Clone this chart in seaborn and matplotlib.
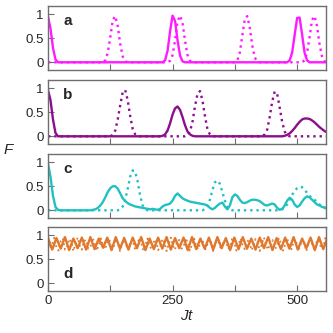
import numpy as np
import pandas as pd
import matplotlib
matplotlib.use("Agg")
import matplotlib.pyplot as plt
import seaborn as sns

# ---------------- data ----------------
a_sol_t = [0, 5, 10, 15, 20, 230, 235, 240, 245, 250, 255, 260, 265, 270, 275,
           480, 485, 490, 495, 500, 505, 510, 515, 520, 525, 560]
a_sol_F = [0.95, 0.7, 0.3, 0.06, 0.0, 0.0, 0.04, 0.24, 0.64, 0.97, 0.86, 0.46, 0.14, 0.02, 0.0,
           0.0, 0.04, 0.2, 0.56, 0.92, 0.93, 0.58, 0.2, 0.04, 0.0, 0.0]
a_dot_t = [0, 110, 115, 120, 125, 130, 135, 140, 145, 150, 155, 160,
           240, 245, 250, 255, 260, 265, 270, 275, 280, 285, 290,
           375, 380, 385, 390, 395, 400, 405, 410, 415, 420, 425,
           510, 515, 520, 525, 530, 535, 540, 545, 550, 555, 560]
a_dot_F = [0, 0, 0.04, 0.2, 0.52, 0.88, 0.96, 0.75, 0.38, 0.12, 0.02, 0,
           0, 0.03, 0.15, 0.45, 0.85, 0.97, 0.82, 0.45, 0.15, 0.03, 0,
           0, 0.04, 0.2, 0.55, 0.9, 0.96, 0.72, 0.35, 0.1, 0.02, 0,
           0, 0.04, 0.2, 0.52, 0.88, 0.96, 0.75, 0.38, 0.12, 0.02, 0]

b_sol_t = [0, 5, 10, 15, 20,
           225, 230, 235, 240, 245, 250, 255, 260, 265, 270, 275, 280, 285, 290, 295,
           470, 475, 480, 485, 490, 495, 500, 505, 510, 515, 520, 525, 530, 535, 540,
           545, 550, 555, 560]
b_sol_F = [0.96, 0.75, 0.35, 0.07, 0.0,
           0.0, 0.01, 0.04, 0.12, 0.27, 0.45, 0.58, 0.62, 0.55, 0.4, 0.23, 0.1, 0.04, 0.01, 0.0,
           0.0, 0.01, 0.03, 0.06, 0.11, 0.17, 0.24, 0.3, 0.35, 0.37, 0.37, 0.36, 0.33, 0.29, 0.24,
           0.19, 0.15, 0.11, 0.08]
b_dot_t = [0, 125, 130, 135, 140, 145, 150, 155, 160, 165, 170, 175, 180,
           275, 280, 285, 290, 295, 300, 305, 310, 315, 320, 325, 330,
           430, 435, 440, 445, 450, 455, 460, 465, 470, 475, 480, 485, 560]
b_dot_F = [0, 0, 0.03, 0.12, 0.35, 0.65, 0.92, 0.96, 0.75, 0.42, 0.15, 0.04, 0,
           0, 0.02, 0.1, 0.3, 0.62, 0.88, 0.94, 0.75, 0.42, 0.15, 0.04, 0,
           0, 0.04, 0.14, 0.4, 0.72, 0.93, 0.88, 0.6, 0.3, 0.1, 0.02, 0, 0]

c_sol_t = [0, 5, 10, 15, 20, 25] + list(range(85, 561, 5))
c_sol_F = [0.97, 0.7, 0.3, 0.07, 0.01, 0.0,
           0.0, 0.01, 0.02, 0.05, 0.1, 0.17, 0.27, 0.38, 0.46, 0.5, 0.5, 0.45, 0.35, 0.25,
           0.19, 0.15, 0.12, 0.1, 0.08, 0.07, 0.06, 0.05, 0.04, 0.03, 0.02, 0.03, 0.02, 0.01,
           0.03, 0.08, 0.11, 0.12, 0.14, 0.2, 0.3, 0.35, 0.3, 0.25, 0.22, 0.2, 0.18, 0.17,
           0.16, 0.15, 0.14, 0.13, 0.12, 0.1, 0.05, 0.02, 0.05, 0.1, 0.14, 0.16, 0.08, 0.02,
           0.1, 0.27, 0.33, 0.3, 0.22, 0.16, 0.15, 0.17, 0.2, 0.22, 0.22, 0.21, 0.19, 0.15,
           0.11, 0.1, 0.12, 0.14, 0.12, 0.05, 0.01, 0.03, 0.1, 0.2, 0.26, 0.22, 0.12, 0.07,
           0.1, 0.18, 0.25, 0.29, 0.27, 0.22, 0.17, 0.12, 0.1, 0.07, 0.06, 0.05]
c_dot_t = [0] + list(range(140, 201, 5)) + list(range(310, 371, 5)) + list(range(465, 561, 5))
c_dot_F = [0,
           0, 0.02, 0.08, 0.22, 0.45, 0.7, 0.83, 0.8, 0.6, 0.3, 0.1, 0.03, 0,
           0, 0.02, 0.08, 0.22, 0.42, 0.58, 0.62, 0.55, 0.38, 0.2, 0.07, 0.02, 0,
           0, 0.02, 0.06, 0.12, 0.22, 0.32, 0.4, 0.46, 0.49, 0.48, 0.43, 0.36, 0.3, 0.25,
           0.22, 0.17, 0.12, 0.08, 0.05, 0.03]

d_sol_step = 8.5
d_sol_F = [0.95, 0.70, 0.94, 0.72, 0.96, 0.69, 0.93, 0.73, 0.95, 0.70, 0.96, 0.71, 0.93, 0.74,
           0.95, 0.69, 0.96, 0.72, 0.94, 0.70, 0.95, 0.73, 0.96, 0.69, 0.93, 0.71, 0.95, 0.72,
           0.96, 0.70, 0.94, 0.73, 0.95, 0.69, 0.96, 0.71, 0.93, 0.72, 0.95, 0.70, 0.96, 0.73,
           0.94, 0.69, 0.95, 0.71, 0.96, 0.72, 0.93, 0.70, 0.95, 0.73, 0.96, 0.69, 0.94, 0.71,
           0.95, 0.72, 0.96, 0.70, 0.93, 0.73, 0.95, 0.69, 0.96, 0.71, 0.94]
d_dot_step = 4.25
d_dot_F = [0.90, 0.72, 0.80, 0.95, 0.74, 0.68, 0.88, 0.93, 0.70, 0.76, 0.92, 0.86, 0.67, 0.82, 0.95, 0.78,
           0.70, 0.88, 0.90, 0.72, 0.75, 0.94, 0.84, 0.68, 0.80, 0.93, 0.77, 0.71, 0.86, 0.91, 0.69, 0.76,
           0.92, 0.85, 0.67, 0.82, 0.95, 0.78, 0.70, 0.88, 0.90, 0.72, 0.75, 0.94, 0.84, 0.68, 0.80, 0.93,
           0.77, 0.71, 0.86, 0.91, 0.69, 0.76, 0.92, 0.85, 0.67, 0.82, 0.95, 0.78, 0.70, 0.88, 0.90, 0.72,
           0.75, 0.94, 0.84, 0.68, 0.80, 0.93, 0.77, 0.71, 0.86, 0.91, 0.69, 0.76, 0.92, 0.85, 0.67, 0.82,
           0.95, 0.78, 0.70, 0.88, 0.90, 0.72, 0.75, 0.94, 0.84, 0.68, 0.80, 0.93, 0.77, 0.71, 0.86, 0.91,
           0.69, 0.76, 0.92, 0.85, 0.67, 0.82, 0.95, 0.78, 0.70, 0.88, 0.90, 0.72, 0.75, 0.94, 0.84, 0.68,
           0.80, 0.93, 0.77, 0.71, 0.86, 0.91, 0.69, 0.76, 0.92, 0.85, 0.67, 0.82, 0.95, 0.78, 0.70, 0.88,
           0.90, 0.72, 0.75, 0.94, 0.84]
d_sol_t = list(np.arange(len(d_sol_F)) * d_sol_step)
d_dot_t = list(np.arange(len(d_dot_F)) * d_dot_step)

panel_labels = ["a", "b", "c", "d"]
colors = ["#ff1aff", "#8c0e8c", "#22c1c1", "#e0782e"]
x_ticks = [0, 125, 250, 375, 500]
x_ticklabels = ["0", "", "250", "", "500"]
y_ticks = [0, 0.5, 1]
y_ticklabels = ["0", "0.5", "1"]

series = [
    (a_sol_t, a_sol_F, a_dot_t, a_dot_F),
    (b_sol_t, b_sol_F, b_dot_t, b_dot_F),
    (c_sol_t, c_sol_F, c_dot_t, c_dot_F),
    (d_sol_t, d_sol_F, d_dot_t, d_dot_F),
]

# ---------------- plotting ----------------
sns.set_style("ticks")
plt.rcParams["font.family"] = ["Liberation Sans", "DejaVu Sans"]
plt.rcParams["mathtext.fontset"] = "custom"
plt.rcParams["mathtext.it"] = "Liberation Sans:italic"

W = H = 333
fig = plt.figure(figsize=(3.33, 3.33), dpi=100)
left, right = 48, 326
tops = [6, 80, 154, 227]
hgt = 64
frame_col = "#6e6e6e"

for i, (st, sF, dt, dF) in enumerate(series):
    ax = fig.add_axes([left / W, 1 - (tops[i] + hgt) / H, (right - left) / W, hgt / H])
    df_s = pd.DataFrame({"t": st, "F": sF})
    df_d = pd.DataFrame({"t": dt, "F": dF})
    dlw = 1.7 if i < 3 else 1.3
    sns.lineplot(data=df_d, x="t", y="F", ax=ax, color=colors[i], linestyle=":",
                 lw=dlw, estimator=None, sort=False)
    sns.lineplot(data=df_s, x="t", y="F", ax=ax, color=colors[i], lw=1.7,
                 estimator=None, sort=False)
    ax.set_xlim(0, 558)
    ax.set_ylim(-0.16, 1.17)
    ax.set_xlabel("")
    ax.set_ylabel("")
    ax.set_xticks(x_ticks)
    ax.set_yticks(y_ticks)
    ax.set_yticklabels(y_ticklabels, fontsize=9.5)
    if i == 3:
        ax.set_xticklabels(x_ticklabels, fontsize=9.5)
    else:
        ax.set_xticklabels([""] * len(x_ticks))
    ax.tick_params(direction="in", length=4, width=0.8, color=frame_col, pad=3)
    for sp in ax.spines.values():
        sp.set_visible(True)
        sp.set_color(frame_col)
        sp.set_linewidth(1.0)
    ly = 0.76 if i < 3 else 0.26
    ax.text(0.055, ly, panel_labels[i], transform=ax.transAxes, fontsize=11,
            fontweight="bold", va="center", ha="left")

fig.text(9 / W, 1 - 150 / H, "$F$", fontsize=11, ha="center", va="center")
fig.text(187 / W, 1 - 316 / H, "$Jt$", fontsize=11, ha="center", va="center")

fig.savefig("out.png", dpi=100)
